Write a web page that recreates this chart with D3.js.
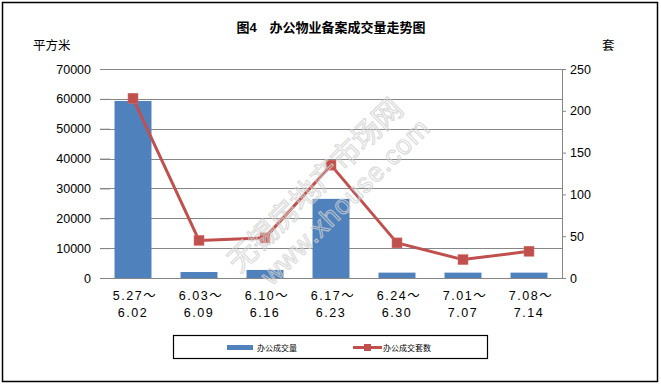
<!DOCTYPE html>
<html><head><meta charset="utf-8">
<script src="https://cdn.jsdelivr.net/npm/d3@7"></script>
<style>
body{margin:0;background:#fff;}
svg{display:block;}
text{font-family:"Liberation Sans","Noto Sans CJK SC",sans-serif;}
</style></head>
<body>
<script>
const categories = [["5.27～","6.02"],["6.03～","6.09"],["6.10～","6.16"],["6.17～","6.23"],["6.24～","6.30"],["7.01～","7.07"],["7.08～","7.14"]];
const areaValues = [59300, 2000, 2700, 26500, 1800, 1800, 1800];
const unitValues = [215, 45, 48, 135, 42, 22, 32];
const leftTicks = [0,10000,20000,30000,40000,50000,60000,70000];
const rightTicks = [0,50,100,150,200,250];
const title = "图4　办公物业备案成交量走势图";
const leftUnit = "平方米", rightUnit = "套";
const seriesNames = ["办公成交量","办公成交套数"];

const W=661,H=384;
const svg=d3.select("body").append("svg").attr("width",W).attr("height",H);
svg.append("rect").attr("x",2.5).attr("y",2.5).attr("width",655).attr("height",379).attr("fill","#fff").attr("stroke","#000").attr("stroke-width",1.5);

const x0=100,x1=562,yTop=69,yBot=278;
const x=d3.scaleBand().domain(d3.range(categories.length)).range([x0,x1]).paddingInner(0.44).paddingOuter(0.22);
const yL=d3.scaleLinear().domain([0,70000]).range([yBot,yTop]);
const yR=d3.scaleLinear().domain([0,250]).range([yBot,yTop]);
const cjk='"Noto Sans CJK SC",sans-serif';

// gridlines
svg.append("g").selectAll("line").data(leftTicks).join("line")
 .attr("x1",x0).attr("x2",x1).attr("y1",d=>Math.round(yL(d))+0.5).attr("y2",d=>Math.round(yL(d))+0.5)
 .attr("stroke","#868686").attr("stroke-width",1);

// left axis
const gl=svg.append("g").attr("transform",`translate(${x0+10},0)`)
 .call(d3.axisLeft(yL).tickValues(leftTicks).tickSize(10).tickPadding(9).tickFormat(d3.format("d")));
gl.select(".domain").remove();
gl.selectAll(".tick line").attr("stroke","#868686");
gl.selectAll("text").attr("font-size",12.5).attr("fill","#000").attr("font-family","Liberation Sans");

// right axis
const gr=svg.append("g").attr("transform",`translate(${x1},0)`)
 .call(d3.axisRight(yR).tickValues(rightTicks).tickSize(4).tickPadding(4).tickSizeOuter(0));
gr.select(".domain").attr("stroke","#868686");
gr.selectAll(".tick line").attr("stroke","#868686");
gr.selectAll("text").attr("font-size",12.5).attr("fill","#000").attr("font-family","Liberation Sans");

// bars
svg.append("g").selectAll("rect").data(areaValues).join("rect")
 .attr("x",(d,i)=>x(i)).attr("width",x.bandwidth())
 .attr("y",d=>yL(d)).attr("height",d=>yBot-yL(d)).attr("fill","#4F81BD");

// line
const cx=i=>x(i)+x.bandwidth()/2;
svg.append("path").datum(unitValues)
 .attr("d",d3.line().x((d,i)=>cx(i)).y(d=>yR(d)))
 .attr("fill","none").attr("stroke","#C0504D").attr("stroke-width",3).attr("stroke-linejoin","round");
svg.append("g").selectAll("rect").data(unitValues).join("rect")
 .attr("x",(d,i)=>cx(i)-5).attr("y",d=>yR(d)-5).attr("width",10).attr("height",10)
 .attr("fill","#C0504D").attr("stroke","#d46e6b").attr("stroke-width",0.5);

// watermark (on top, translucent)
const wm=svg.append("g").attr("transform","translate(325,195) rotate(-44.5)")
 .attr("fill","none").attr("stroke","#d0d0d0").attr("stroke-opacity",0.75).attr("stroke-width",1.2);
wm.append("text").attr("x",0).attr("y",-4).attr("text-anchor","middle").attr("font-size",29).attr("font-family",cjk).text("无锡房地产市场网");
wm.append("text").attr("x",10).attr("y",28).attr("text-anchor","middle").attr("font-size",27).attr("font-family","Liberation Sans").attr("letter-spacing",1).text("www.xhouse.com");

// x labels
const xl=svg.append("g");
categories.forEach((c,i)=>{
  xl.append("text").attr("x",cx(i)+2).attr("y",300).attr("text-anchor","middle").attr("font-size",12.5).attr("letter-spacing",1.5).text(c[0]);
  xl.append("text").attr("x",cx(i)).attr("y",317).attr("text-anchor","middle").attr("font-size",12.5).attr("letter-spacing",1.5).text(c[1]);
});

// titles
svg.append("text").attr("x",331).attr("y",32).attr("text-anchor","middle").attr("font-size",13).attr("font-weight","bold").attr("font-family",cjk).text(title);
svg.append("text").attr("x",33).attr("y",50).attr("font-size",12.5).attr("font-family",cjk).text(leftUnit);
svg.append("text").attr("x",602).attr("y",50).attr("font-size",12.5).attr("font-family",cjk).text(rightUnit);

// legend
const lg=svg.append("g");
lg.append("rect").attr("x",173.5).attr("y",335.5).attr("width",314).attr("height",23).attr("fill","#fff").attr("stroke","#000").attr("stroke-width",1.2);
lg.append("rect").attr("x",227).attr("y",345).attr("width",26).attr("height",5).attr("fill","#4F81BD");
lg.append("text").attr("x",257).attr("y",351).attr("font-size",8).attr("font-family",cjk).text(seriesNames[0]);
lg.append("line").attr("x1",353).attr("x2",382).attr("y1",347.5).attr("y2",347.5).attr("stroke","#C0504D").attr("stroke-width",3);
lg.append("rect").attr("x",364).attr("y",344).attr("width",7).attr("height",7).attr("fill","#C0504D");
lg.append("text").attr("x",383).attr("y",351).attr("font-size",8).attr("font-family",cjk).text(seriesNames[1]);
</script>
</body></html>
